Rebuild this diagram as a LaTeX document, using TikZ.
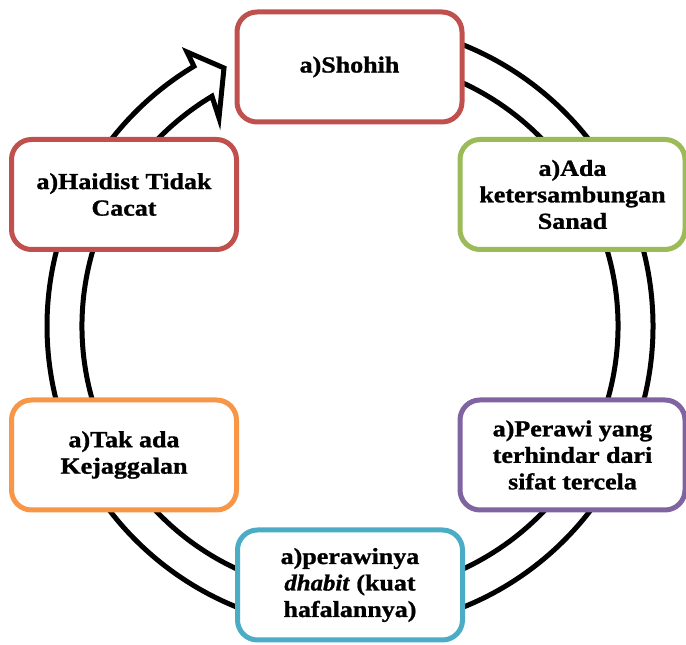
\documentclass[tikz,border=0pt]{standalone}
\usepackage{fontspec}
\usetikzlibrary{calc}
\setmainfont{Liberation Serif}[
  BoldFeatures={FakeStretch=1.13, FakeBold=1.1},
  BoldItalicFeatures={FakeStretch=1.08, FakeBold=1.1}]
\definecolor{cred}{HTML}{C0504D}
\definecolor{cgreen}{HTML}{9BBB59}
\definecolor{cpurple}{HTML}{8064A2}
\definecolor{cblue}{HTML}{4BACC6}
\definecolor{corange}{HTML}{F79646}
\begin{document}
\begin{tikzpicture}[x=1pt,y=1pt,
  stepbox/.style={draw, line width=5pt, fill=white, rounded corners=20pt,
    minimum width=225pt, minimum height=110pt, align=center, inner sep=2pt,
    font=\fontsize{23}{26.5}\selectfont\bfseries, text=black},
  ring/.style={draw=black, fill=white, line width=5pt, line join=miter}]
\useasboundingbox (0,0) rectangle (686,645);
% circular arrow
\coordinate (c) at (350,319);
\coordinate (ob) at (187,593);
\coordinate (tip) at (224,577);
\coordinate (ib) at (219,527);
\draw[ring] ($(c)+(95:303)$) arc[start angle=95, end angle=-239, radius=303]
  -- (ob) -- (tip) -- (ib) -- ($(c)+(121:268)$)
  arc[start angle=-239, end angle=95, radius=268] -- cycle;
% boxes
\node[stepbox, draw=cred] (n1) at (349.5,578) {a)Shohih};
\node[stepbox, draw=cgreen] (n2) at (572.5,450.5) {a)Ada\\ketersambungan\\Sanad};
\node[stepbox, draw=cpurple] (n3) at (572.5,190) {a)Perawi yang\\terhindar dari\\sifat tercela};
\node[stepbox, draw=cblue] (n4) at (350,60) {a)perawinya\\\textit{dhabit} (kuat\\hafalannya)};
\node[stepbox, draw=corange] (n5) at (124,190) {a)Tak ada\\Kejaggalan};
\node[stepbox, draw=cred] (n6) at (124,450.5) {a)Haidist Tidak\\Cacat};
\end{tikzpicture}
\end{document}
